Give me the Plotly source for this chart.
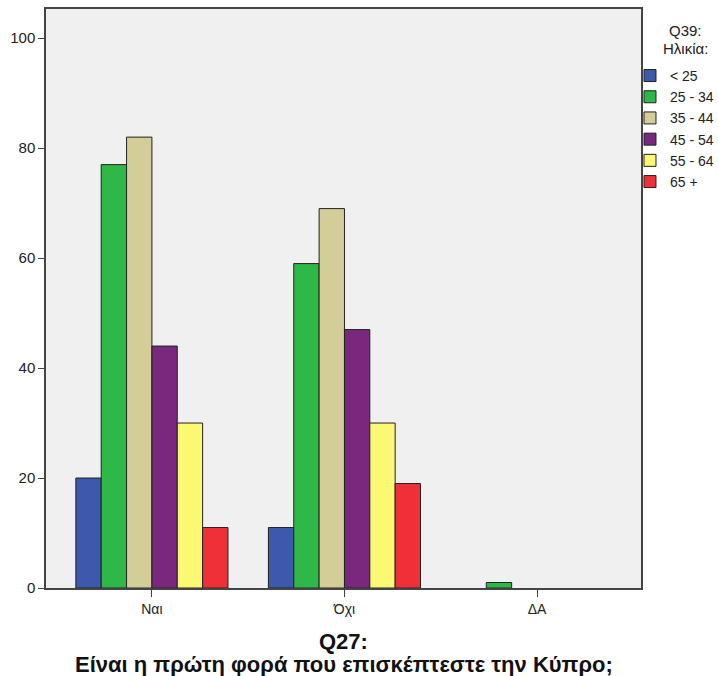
import plotly.graph_objects as go

categories = ["Ναι", "Όχι", "ΔΑ"]
age_groups = ["< 25", "25 - 34", "35 - 44", "45 - 54", "55 - 64", "65 +"]
values = {
    "< 25": [20, 11, None],
    "25 - 34": [77, 59, 1],
    "35 - 44": [82, 69, None],
    "45 - 54": [44, 47, None],
    "55 - 64": [30, 30, None],
    "65 +": [11, 19, None],
}
colors = ["#3E58AC", "#2EB848", "#D3CE97", "#79287D", "#FBF873", "#EF3038"]
y_ticks = [0, 20, 40, 60, 80, 100]

fig = go.Figure()
for name, col in zip(age_groups, colors):
    fig.add_trace(go.Bar(
        x=categories, y=values[name], name=name,
        marker=dict(color=col, line=dict(color="#222222", width=1)),
    ))

font_family = "Liberation Sans, Arial, sans-serif"
ann_font = dict(family=font_family, size=15, color="#222222")
title_font = dict(family=font_family, size=22, color="#111111")
fig.update_layout(
    width=718, height=676,
    barmode="group", bargap=0.21, bargroupgap=0,
    paper_bgcolor="white", plot_bgcolor="#F0F0F0",
    margin=dict(l=46, r=77, t=9, b=88, autoexpand=False),
    font=dict(family=font_family, size=14, color="#222222"),
    showlegend=True,
    legend=dict(
        x=0.9815, xanchor="left", y=0.912, yanchor="top",
        bgcolor="rgba(0,0,0,0)",
        font=dict(size=14, color="#222222"),
        tracegroupgap=0, itemwidth=30,
    ),
    annotations=[
        dict(text="Q39:", xref="paper", yref="paper", x=1.0756, y=(588 - 31) / 579,
             xanchor="center", yanchor="middle", showarrow=False, font=ann_font),
        dict(text="Ηλικία:", xref="paper", yref="paper", x=1.0756, y=(588 - 49) / 579,
             xanchor="center", yanchor="middle", showarrow=False, font=ann_font),
        dict(text="<b>Q27:</b>", xref="paper", yref="paper", x=0.5, y=(588 - 641) / 579,
             xanchor="center", yanchor="middle", showarrow=False, font=title_font),
        dict(text="<b>Είναι η πρώτη φορά που επισκέπτεστε την Κύπρο;</b>", xref="paper",
             yref="paper", x=0.5, y=(588 - 664) / 579,
             xanchor="center", yanchor="middle", showarrow=False, font=title_font),
    ],
    xaxis=dict(
        range=[-0.55, 2.54], showline=True, linecolor="#444444", linewidth=1.5,
        mirror=True, ticks="outside", ticklen=7, tickcolor="#444444",
        showgrid=False, zeroline=False, tickfont=dict(size=14), automargin=False,
    ),
    yaxis=dict(
        range=[0, 105.3], tickvals=y_ticks, showline=True, linecolor="#444444",
        linewidth=1.5, mirror=True, ticks="outside", ticklen=6, tickcolor="#444444",
        showgrid=False, zeroline=False, tickfont=dict(size=15), automargin=False,
    ),
)

fig.write_html("out.html", config={"displayModeBar": False},
               post_script="document.body.style.margin='0';")
